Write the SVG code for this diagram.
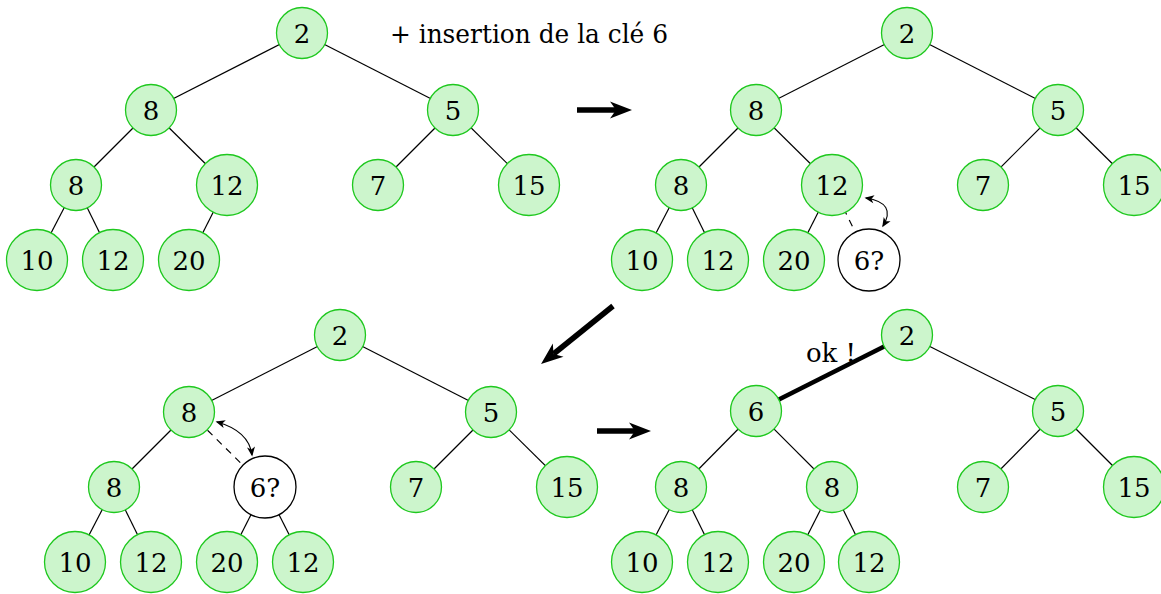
<svg xmlns="http://www.w3.org/2000/svg" width="1161" height="594" viewBox="0 0 1161 594">
<style>
.n circle{fill:#ccf5cc;stroke:#1ec81e;stroke-width:1.3}
.w circle{fill:#ffffff;stroke:#000;stroke-width:1.3}
text{font-family:'DejaVu Serif','Liberation Serif',serif;font-size:26px;fill:#000;text-anchor:middle}
.e{stroke:#000;stroke-width:1.2;fill:none}
.d{stroke:#000;stroke-width:1.2;fill:none;stroke-dasharray:7,6}
.t{stroke:#000;stroke-width:4.5;fill:none}
.big{stroke:#000;stroke-width:5.5;fill:none;marker-end:url(#bh)}
.cur{stroke:#000;stroke-width:1.1;fill:none;marker-start:url(#sh);marker-end:url(#sh)}
</style>
<defs>
<marker id="bh" markerUnits="userSpaceOnUse" viewBox="-8 -10 26 20" refX="0" refY="0" markerWidth="26" markerHeight="20" orient="auto" overflow="visible">
<path d="M16,0 L-6,-8.5 L0,0 L-6,8.5 Z" fill="#000"/>
</marker>
<marker id="sh" markerUnits="userSpaceOnUse" viewBox="-9 -5 11 10" refX="0" refY="0" markerWidth="11" markerHeight="10" orient="auto-start-reverse" overflow="visible">
<path d="M1.5,0 L-8,-4 L-5.5,0 L-8,4 Z" fill="#000"/>
</marker>
</defs>

<g id="connectors">
<!-- tree 1 -->
<line class="e" x1="302" y1="33" x2="151" y2="110"/>
<line class="e" x1="302" y1="33" x2="453" y2="110"/>
<line class="e" x1="151" y1="110" x2="76" y2="185"/>
<line class="e" x1="151" y1="110" x2="227" y2="185"/>
<line class="e" x1="453" y1="110" x2="378" y2="185"/>
<line class="e" x1="453" y1="110" x2="529" y2="185"/>
<line class="e" x1="76" y1="185" x2="37" y2="260"/>
<line class="e" x1="76" y1="185" x2="113" y2="260"/>
<line class="e" x1="227" y1="185" x2="189" y2="260"/>
<!-- tree 2 -->
<line class="e" x1="907" y1="33" x2="756" y2="110"/>
<line class="e" x1="907" y1="33" x2="1058" y2="110"/>
<line class="e" x1="756" y1="110" x2="681" y2="185"/>
<line class="e" x1="756" y1="110" x2="832" y2="185"/>
<line class="e" x1="1058" y1="110" x2="983" y2="185"/>
<line class="e" x1="1058" y1="110" x2="1134" y2="185"/>
<line class="e" x1="681" y1="185" x2="642" y2="260"/>
<line class="e" x1="681" y1="185" x2="718" y2="260"/>
<line class="e" x1="832" y1="185" x2="794" y2="260"/>
<line class="d" x1="832" y1="185" x2="869" y2="260"/>
<path class="cur" d="M866,198 Q897,203 883,226"/>
<!-- tree 3 -->
<line class="e" x1="340" y1="335" x2="189" y2="412"/>
<line class="e" x1="340" y1="335" x2="491" y2="412"/>
<line class="e" x1="189" y1="412" x2="114" y2="487"/>
<line class="d" x1="189" y1="412" x2="265" y2="487"/>
<line class="e" x1="491" y1="412" x2="416" y2="487"/>
<line class="e" x1="491" y1="412" x2="567" y2="487"/>
<line class="e" x1="114" y1="487" x2="75" y2="562"/>
<line class="e" x1="114" y1="487" x2="151" y2="562"/>
<line class="e" x1="265" y1="487" x2="227" y2="562"/>
<line class="e" x1="265" y1="487" x2="303" y2="562"/>
<path class="cur" d="M217,422 Q249,431 252,455"/>
<!-- tree 4 -->
<line class="t" x1="907" y1="335" x2="756" y2="411"/>
<line class="e" x1="907" y1="335" x2="1058" y2="411"/>
<line class="e" x1="756" y1="411" x2="681" y2="487"/>
<line class="e" x1="756" y1="411" x2="832" y2="487"/>
<line class="e" x1="1058" y1="411" x2="983" y2="487"/>
<line class="e" x1="1058" y1="411" x2="1134" y2="487"/>
<line class="e" x1="681" y1="487" x2="642" y2="562"/>
<line class="e" x1="681" y1="487" x2="718" y2="562"/>
<line class="e" x1="832" y1="487" x2="794" y2="562"/>
<line class="e" x1="832" y1="487" x2="869" y2="562"/>
<!-- big arrows -->
<line class="big" x1="577" y1="110" x2="616" y2="110"/>
<line class="big" x1="613" y1="306" x2="553.5" y2="354"/>
<line class="big" x1="597" y1="431" x2="635" y2="431"/>
</g>

<g id="labels">
<text x="390" y="43" style="text-anchor:start" textLength="278" lengthAdjust="spacingAndGlyphs">+ insertion de la clé 6</text>
<text x="831" y="362">ok !</text>
</g>

<!-- tree 1 nodes -->
<g id="t1_n2" class="n"><circle cx="302" cy="33" r="25.5"/><text x="302" y="42.5">2</text></g>
<g id="t1_n8a" class="n"><circle cx="151" cy="110" r="25.5"/><text x="151" y="119.5">8</text></g>
<g id="t1_n5" class="n"><circle cx="453" cy="110" r="25.5"/><text x="453" y="119.5">5</text></g>
<g id="t1_n8b" class="n"><circle cx="76" cy="185" r="25.5"/><text x="76" y="194.5">8</text></g>
<g id="t1_n12a" class="n"><circle cx="227" cy="185" r="30.5"/><text x="227" y="194.5">12</text></g>
<g id="t1_n7" class="n"><circle cx="378" cy="185" r="25.5"/><text x="378" y="194.5">7</text></g>
<g id="t1_n15" class="n"><circle cx="529" cy="185" r="30.5"/><text x="529" y="194.5">15</text></g>
<g id="t1_n10" class="n"><circle cx="37" cy="260" r="30.5"/><text x="37" y="269.5">10</text></g>
<g id="t1_n12b" class="n"><circle cx="113" cy="260" r="30.5"/><text x="113" y="269.5">12</text></g>
<g id="t1_n20" class="n"><circle cx="189" cy="260" r="30.5"/><text x="189" y="269.5">20</text></g>

<!-- tree 2 nodes -->
<g id="t2_n2" class="n"><circle cx="907" cy="33" r="25.5"/><text x="907" y="42.5">2</text></g>
<g id="t2_n8a" class="n"><circle cx="756" cy="110" r="25.5"/><text x="756" y="119.5">8</text></g>
<g id="t2_n5" class="n"><circle cx="1058" cy="110" r="25.5"/><text x="1058" y="119.5">5</text></g>
<g id="t2_n8b" class="n"><circle cx="681" cy="185" r="25.5"/><text x="681" y="194.5">8</text></g>
<g id="t2_n12a" class="n"><circle cx="832" cy="185" r="30.5"/><text x="832" y="194.5">12</text></g>
<g id="t2_n7" class="n"><circle cx="983" cy="185" r="25.5"/><text x="983" y="194.5">7</text></g>
<g id="t2_n15" class="n"><circle cx="1134" cy="185" r="30.5"/><text x="1134" y="194.5">15</text></g>
<g id="t2_n10" class="n"><circle cx="642" cy="260" r="30.5"/><text x="642" y="269.5">10</text></g>
<g id="t2_n12b" class="n"><circle cx="718" cy="260" r="30.5"/><text x="718" y="269.5">12</text></g>
<g id="t2_n20" class="n"><circle cx="794" cy="260" r="30.5"/><text x="794" y="269.5">20</text></g>
<g id="t2_n6q" class="w"><circle cx="869" cy="260" r="31"/><text x="869" y="269.5">6?</text></g>

<!-- tree 3 nodes -->
<g id="t3_n2" class="n"><circle cx="340" cy="335" r="25.5"/><text x="340" y="344.5">2</text></g>
<g id="t3_n8a" class="n"><circle cx="189" cy="412" r="25.5"/><text x="189" y="421.5">8</text></g>
<g id="t3_n5" class="n"><circle cx="491" cy="412" r="25.5"/><text x="491" y="421.5">5</text></g>
<g id="t3_n8b" class="n"><circle cx="114" cy="487" r="25.5"/><text x="114" y="496.5">8</text></g>
<g id="t3_n6q" class="w"><circle cx="265" cy="487" r="31"/><text x="265" y="496.5">6?</text></g>
<g id="t3_n7" class="n"><circle cx="416" cy="487" r="25.5"/><text x="416" y="496.5">7</text></g>
<g id="t3_n15" class="n"><circle cx="567" cy="487" r="30.5"/><text x="567" y="496.5">15</text></g>
<g id="t3_n10" class="n"><circle cx="75" cy="562" r="30.5"/><text x="75" y="571.5">10</text></g>
<g id="t3_n12a" class="n"><circle cx="151" cy="562" r="30.5"/><text x="151" y="571.5">12</text></g>
<g id="t3_n20" class="n"><circle cx="227" cy="562" r="30.5"/><text x="227" y="571.5">20</text></g>
<g id="t3_n12b" class="n"><circle cx="303" cy="562" r="30.5"/><text x="303" y="571.5">12</text></g>

<!-- tree 4 nodes -->
<g id="t4_n2" class="n"><circle cx="907" cy="335" r="25.5"/><text x="907" y="344.5">2</text></g>
<g id="t4_n6" class="n"><circle cx="756" cy="411" r="25.5"/><text x="756" y="420.5">6</text></g>
<g id="t4_n5" class="n"><circle cx="1058" cy="411" r="25.5"/><text x="1058" y="420.5">5</text></g>
<g id="t4_n8a" class="n"><circle cx="681" cy="487" r="25.5"/><text x="681" y="496.5">8</text></g>
<g id="t4_n8b" class="n"><circle cx="832" cy="487" r="25.5"/><text x="832" y="496.5">8</text></g>
<g id="t4_n7" class="n"><circle cx="983" cy="487" r="25.5"/><text x="983" y="496.5">7</text></g>
<g id="t4_n15" class="n"><circle cx="1134" cy="487" r="30.5"/><text x="1134" y="496.5">15</text></g>
<g id="t4_n10" class="n"><circle cx="642" cy="562" r="30.5"/><text x="642" y="571.5">10</text></g>
<g id="t4_n12a" class="n"><circle cx="718" cy="562" r="30.5"/><text x="718" y="571.5">12</text></g>
<g id="t4_n20" class="n"><circle cx="794" cy="562" r="30.5"/><text x="794" y="571.5">20</text></g>
<g id="t4_n12b" class="n"><circle cx="869" cy="562" r="30.5"/><text x="869" y="571.5">12</text></g>
</svg>
